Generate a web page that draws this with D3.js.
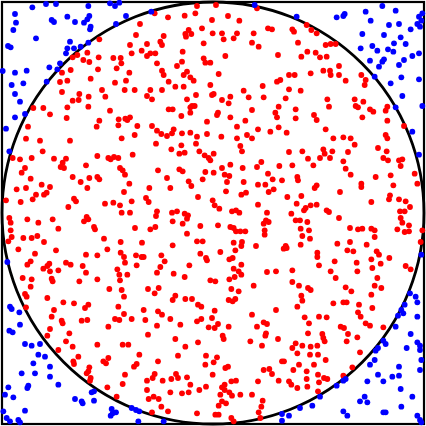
<!DOCTYPE html>
<html>
<head>
<meta charset="utf-8">
<script src="https://cdn.jsdelivr.net/npm/d3@7"></script>
<style>
html,body{margin:0;padding:0;background:#fff;}
svg{display:block;}
</style>
</head>
<body>
<div id="chart"></div>
<script>
// Monte Carlo samples in a square of half-side 633 units, centred on the origin.
const HALF = 633;
const RADIUS = 633;

// samples that fell inside the circle
const insidePoints = [
[-219,567],[-231,534],[-249,504],[-214,487],[-341,521],[-377,481],[-407,474],[-421,467],[-389,459],[-371,453],[-343,467],[-299,465],[-277,465],[-275,449],[-244,479],[-453,421],[-427,429],[-289,434],[-251,421],[-345,431],[-459,393],[-437,397],[-367,403],[-294,391],[-261,397],[-235,369],[-453,363],[-401,357],[-373,349],[-333,369],[-323,349],[-265,369],[-421,337],[-403,339],[-374,319],[-539,315],[-509,315],[-437,317],[-309,307],[-489,296],[-283,281],[-263,283],[-249,287],[-439,285],[-341,277],[-257,279],[-555,259],[-349,259],[-284,263],[-227,261],[-235,234],[-429,217],[-274,224],[-561,223],[-519,217],
[-48,621],[9,624],[132,614],[-175,599],[-135,587],[-85,592],[-53,599],[45,591],[-3,579],[79,577],[-33,554],[165,554],[177,551],[-73,549],[-83,537],[-65,537],[-81,529],[-148,531],[-1,539],[27,539],[72,539],[122,539],[-158,514],[-28,509],[32,521],[62,524],[117,511],[-198,507],[-153,504],[137,499],[-173,479],[-198,471],[-188,479],[-91,484],[37,471],[195,474],[-28,464],[-23,451],[-8,451],[-93,454],[-168,449],[-108,441],[-153,427],[-148,414],[17,417],[-78,424],[-88,414],[-68,407],[-58,397],[-133,394],[202,399],[192,394],[-113,379],[-88,379],[-188,369],[-153,369],[-8,384],[92,367],[149,381],[-198,351],[-183,341],[-3,354],[2,357],[-51,354],[52,349],[107,347],[152,347],[-78,341],[27,339],[-63,321],[-55,321],[-68,317],[-133,311],[-121,311],[47,329],[117,309],[197,319],[15,301],[12,294],[-68,301],[-95,291],[52,287],[187,301],[192,287],[-183,261],[-18,274],[72,259],[97,277],[135,251],[197,257],[-168,247],[-155,237],[-138,231],[-123,239],[-118,251],[-93,239],[-68,241],[-48,229],[-18,237],[25,229],[72,224],[102,234],[117,224],[172,244],
[281,564],[238,551],[243,544],[295,549],[311,539],[255,511],[338,504],[353,507],[368,507],[283,484],[308,481],[265,469],[321,467],[341,469],[378,441],[331,427],[351,427],[353,414],[293,419],[378,414],[398,397],[445,414],[458,399],[455,384],[228,414],[245,414],[228,371],[263,367],[218,344],[343,341],[348,319],[425,341],[451,334],[428,321],[435,317],[471,311],[481,304],[523,319],[518,307],[248,311],[248,284],[303,294],[311,279],[448,287],[523,277],[573,261],[338,251],[361,224],[391,227],[413,224],[221,241],[518,234],[523,224],
[-601,165],[-579,161],[-544,165],[-511,185],[-477,163],[-441,163],[-451,151],[-457,138],[-447,135],[-347,171],[-314,165],[-307,161],[-297,168],[-284,165],[-279,135],[-241,175],[-564,135],[-574,121],[-381,143],[-271,128],[-264,115],[-421,108],[-371,105],[-347,108],[-341,101],[-397,93],[-251,88],[-547,103],[-589,71],[-561,75],[-514,85],[-489,78],[-531,55],[-507,55],[-499,61],[-377,75],[-267,63],[-621,38],[-577,33],[-541,41],[-417,43],[-411,35],[-324,28],[-299,31],[-279,23],[-244,35],[-434,18],[-274,1],[-249,1],[-611,-15],[-607,-29],[-557,-19],[-524,-29],[-481,-19],[-464,-47],[-379,-12],[-374,-19],[-387,-25],[-357,-42],[-354,-49],[-607,-52],[-604,-72],[-569,-75],[-544,-75],[-527,-69],[-234,-45],[-327,-77],[-277,-87],[-614,-85],[-507,-87],[-584,-109],[-534,-122],[-471,-112],[-381,-125],[-347,-127],[-317,-109],[-277,-119],[-267,-132],[-231,-127],[-547,-145],[-557,-155],[-509,-167],[-497,-159],[-491,-152],[-489,-175],[-464,-172],[-441,-149],[-427,-155],[-391,-159],[-287,-169],[-264,-149],[-229,-157],[-214,-132],[-571,-195],[-544,-199],[-484,-197],[-481,-205],[-401,-205],[-381,-179],[-347,-199],[-281,-185],[-257,-185],[-279,-202],
[-171,208],[-95,203],[-51,208],[82,201],[87,185],[-125,191],[-101,178],[-85,181],[-41,185],[-25,173],[-13,165],[-8,158],[2,178],[132,138],[145,153],[199,141],[-165,128],[-101,131],[-91,125],[-23,123],[2,121],[27,135],[52,145],[89,135],[35,115],[49,111],[165,118],[179,101],[207,98],[-138,105],[-73,95],[-65,81],[-31,101],[42,93],[92,93],[135,85],[157,85],[182,71],[167,63],[-191,75],[-128,75],[39,65],[85,55],[99,61],[-201,45],[-193,33],[-45,48],[-1,38],[5,23],[19,13],[135,25],[-168,5],[-171,-9],[-123,1],[-108,5],[-85,-2],[-75,-7],[-78,-17],[57,5],[69,8],[79,1],[162,1],[-121,-25],[-91,-32],[15,-37],[52,-42],[62,-45],[69,-55],[97,-55],[82,-55],[152,-32],[159,-22],[167,-27],[155,-52],[155,-65],[-188,-49],[-173,-42],[-78,-62],[-38,-39],[-48,-85],[-31,-85],[62,-89],[87,-87],[85,-99],[-121,-97],[129,-99],[-213,-89],[-38,-122],[22,-117],[67,-112],[-208,-132],[-155,-127],[-145,-145],[-21,-135],[-18,-142],[49,-139],[59,-135],[212,-107],[-158,-162],[-71,-157],[62,-167],[77,-175],[85,-155],[-168,-179],[-118,-182],[-85,-192],[-8,-202],[7,-205],[49,-199],[65,-192],[85,-185],[162,-177],[189,-175],
[228,183],[268,185],[331,191],[335,178],[358,185],[405,183],[425,205],[495,195],[521,185],[511,165],[525,158],[558,158],[568,161],[563,141],[238,143],[285,163],[301,143],[321,165],[351,165],[391,155],[398,133],[413,115],[488,108],[533,113],[605,118],[613,88],[253,108],[255,98],[311,83],[305,75],[445,88],[445,78],[541,83],[381,63],[223,48],[265,51],[531,53],[528,41],[558,41],[578,35],[475,33],[251,28],[293,23],[311,25],[278,15],[273,8],[341,8],[348,3],[591,18],[235,-2],[378,-15],[561,5],[575,5],[563,-15],[568,-29],[588,-37],[248,-22],[261,-22],[283,-27],[263,-47],[288,-52],[411,-45],[435,-49],[448,-47],[475,-47],[485,-52],[553,-49],[575,-57],[588,-55],[628,-52],[268,-69],[291,-77],[485,-72],[218,-99],[221,-105],[263,-95],[373,-92],[411,-87],[403,-112],[421,-115],[461,-95],[491,-115],[498,-125],[313,-119],[313,-132],[365,-145],[431,-149],[475,-139],[529,-135],[578,-159],[593,-169],[238,-172],[318,-157],[353,-175],[433,-175],[478,-165],[503,-152],[368,-195],[493,-195],[238,-207],[623,-87],
[-547,-221],[-564,-243],[-559,-251],[-497,-255],[-449,-268],[-417,-271],[-561,-283],[-477,-291],[-484,-311],[-454,-323],[-451,-331],[-394,-323],[-377,-321],[-384,-285],[-374,-275],[-489,-348],[-497,-368],[-431,-361],[-441,-385],[-421,-401],[-464,-411],[-404,-431],[-417,-453],[-419,-445],[-374,-475],[-379,-481],[-371,-463],[-367,-495],[-369,-503],[-347,-395],[-314,-341],[-294,-318],[-281,-321],[-267,-303],[-244,-318],[-284,-281],[-267,-251],[-274,-231],[-311,-228],[-271,-395],[-254,-395],[-221,-425],[-314,-435],[-321,-451],[-329,-445],[-264,-485],[-237,-461],[-229,-453],[-271,-513],[-317,-523],[-289,-551],
[-195,-228],[-175,-241],[-163,-225],[-113,-248],[-121,-261],[-83,-258],[-63,-258],[-45,-275],[-35,-281],[47,-261],[59,-265],[67,-258],[55,-228],[77,-235],[122,-218],[-208,-291],[-165,-295],[-153,-305],[-128,-318],[-203,-321],[-168,-338],[-98,-335],[-48,-325],[-35,-318],[-3,-315],[5,-293],[-13,-343],[5,-345],[15,-333],[47,-341],[29,-368],[32,-378],[117,-305],[132,-341],[152,-328],[162,-333],[159,-361],[157,-368],[189,-291],[195,-378],[-195,-365],[-113,-378],[-83,-401],[-45,-388],[112,-385],[147,-398],[-105,-428],[-21,-428],[12,-433],[-23,-455],[2,-448],[-165,-445],[45,-461],[37,-465],[-1,-485],[152,-471],[169,-468],[177,-483],[207,-445],[-175,-483],[-181,-495],[-198,-503],[-151,-503],[-125,-498],[-111,-483],[-105,-495],[-78,-493],[-68,-515],[35,-515],[55,-505],[69,-503],[135,-505],[197,-503],[-198,-531],[-178,-551],[-128,-538],[-93,-541],[-73,-538],[-41,-531],[-21,-521],[27,-523],[35,-531],[22,-545],[49,-538],[57,-548],[82,-545],[-193,-558],[-163,-558],[-155,-581],[-135,-595],[27,-565],[17,-578],[39,-571],[117,-545],[149,-563],[145,-581],[137,-598],[-183,-598],[-48,-601],[7,-605],[17,-605],[55,-615],[62,-625],[142,-615],
[258,-218],[285,-225],[293,-231],[398,-223],[485,-218],[505,-225],[265,-248],[268,-263],[253,-281],[361,-271],[391,-268],[401,-268],[415,-235],[475,-245],[438,-275],[478,-285],[435,-298],[443,-311],[318,-311],[341,-313],[275,-313],[288,-331],[458,-331],[471,-338],[383,-341],[393,-345],[511,-343],[285,-361],[328,-363],[331,-375],[335,-385],[405,-363],[433,-373],[401,-385],[248,-391],[238,-405],[268,-398],[293,-401],[313,-398],[253,-421],[291,-425],[315,-425],[441,-418],[213,-445],[258,-455],[303,-455],[338,-441],[418,-463],[241,-471],[281,-475],[315,-485],[333,-495],[343,-498],[391,-488],[228,-505],[235,-515],[281,-498],[253,-525],[318,-508],[283,-521],[315,-535]
];

// samples that fell outside the circle
const outsidePoints = [
[-542,617],[-501,627],[-471,627],[-374,621],[-309,629],[-294,621],[-281,631],[-594,597],[-371,591],[-377,581],[-261,591],[-484,579],[-477,573],[-437,589],[-414,573],[-387,571],[-591,571],[-599,549],[-367,559],[-369,551],[-291,567],[-531,524],[-429,514],[-615,501],[-607,497],[-437,494],[-417,494],[-397,499],[-374,511],[-441,479],[-459,449],[-491,437],[-467,431],[-631,426],[-594,421],[-559,427],[-604,384],[-569,389],[-499,394],[-594,357],[-579,334],[-564,297],[-594,287],[-621,253],
[-185,604],[125,624],
[508,621],[548,607],[458,604],[371,587],[391,591],[395,597],[251,589],[473,577],[618,589],[628,599],[625,577],[613,567],[621,559],[558,567],[528,564],[593,551],[448,537],[513,534],[563,527],[578,507],[543,509],[478,501],[443,494],[493,487],[525,491],[541,484],[618,479],[598,471],[513,461],[508,454],[471,457],[573,459],[558,444],[498,439],[618,401],[565,407],[533,389],[485,409],[568,351],[628,321],[598,244],[548,317],
[-611,185],[-617,-147],
[618,175],[625,-125],
[-609,-281],[-604,-288],[-581,-298],[-611,-353],[-601,-358],[-579,-335],[-564,-393],[-544,-398],[-519,-393],[-524,-425],[-504,-431],[-539,-451],[-489,-461],[-574,-481],[-534,-481],[-489,-491],[-554,-518],[-557,-525],[-464,-515],[-614,-523],[-624,-545],[-599,-553],[-364,-538],[-357,-535],[-414,-558],[-394,-565],[-391,-571],[-357,-563],[-564,-593],[-629,-595],[-619,-615],[-609,-625],[-584,-621],[-579,-628],[-304,-588],[-291,-598],[-301,-601],[-307,-608],[-244,-585],[-231,-591],[-221,-595],[-224,-625],
[-148,-625],[207,-603],[207,-623],
[591,-241],[608,-251],[613,-268],[575,-275],[565,-291],[571,-301],[555,-308],[613,-311],[548,-341],[593,-363],[511,-383],[518,-393],[613,-388],[621,-398],[621,-411],[581,-405],[495,-405],[488,-413],[485,-441],[471,-455],[625,-441],[558,-461],[621,-471],[495,-485],[538,-491],[511,-505],[463,-505],[558,-488],[398,-498],[391,-503],[371,-518],[563,-528],[455,-551],[441,-565],[463,-568],[598,-551],[321,-551],[565,-581],[261,-585],[298,-578],[391,-595],[403,-608],[511,-598],[518,-598],[228,-608],[613,-608],[621,-621],[625,-628]
];

const series = [
  {name: "inside", points: insidePoints, color: "#ff0000"},
  {name: "outside", points: outsidePoints, color: "#0000ff"}
];

const W = 426, H = 426;
const svg = d3.select("#chart").append("svg").attr("width", W).attr("height", H);
svg.append("rect").attr("width", W).attr("height", H).attr("fill", "#fff");

const x = d3.scaleLinear().domain([-HALF, HALF]).range([2, 424]);
const y = d3.scaleLinear().domain([-HALF, HALF]).range([424, 2]);

// square frame
svg.append("rect")
  .attr("x", x(-HALF)).attr("y", y(HALF))
  .attr("width", x(HALF) - x(-HALF)).attr("height", y(-HALF) - y(HALF))
  .attr("fill", "none").attr("stroke", "#000").attr("stroke-width", 2.2);

// unit circle
svg.append("circle")
  .attr("cx", x(0)).attr("cy", y(0))
  .attr("r", x(RADIUS) - x(0))
  .attr("fill", "none").attr("stroke", "#000").attr("stroke-width", 2.8);

series.forEach(s => {
  svg.append("g").selectAll("circle")
    .data(s.points).join("circle")
    .attr("cx", d => x(d[0])).attr("cy", d => y(d[1]))
    .attr("r", 2.9).attr("fill", s.color);
});
</script>
</body>
</html>
